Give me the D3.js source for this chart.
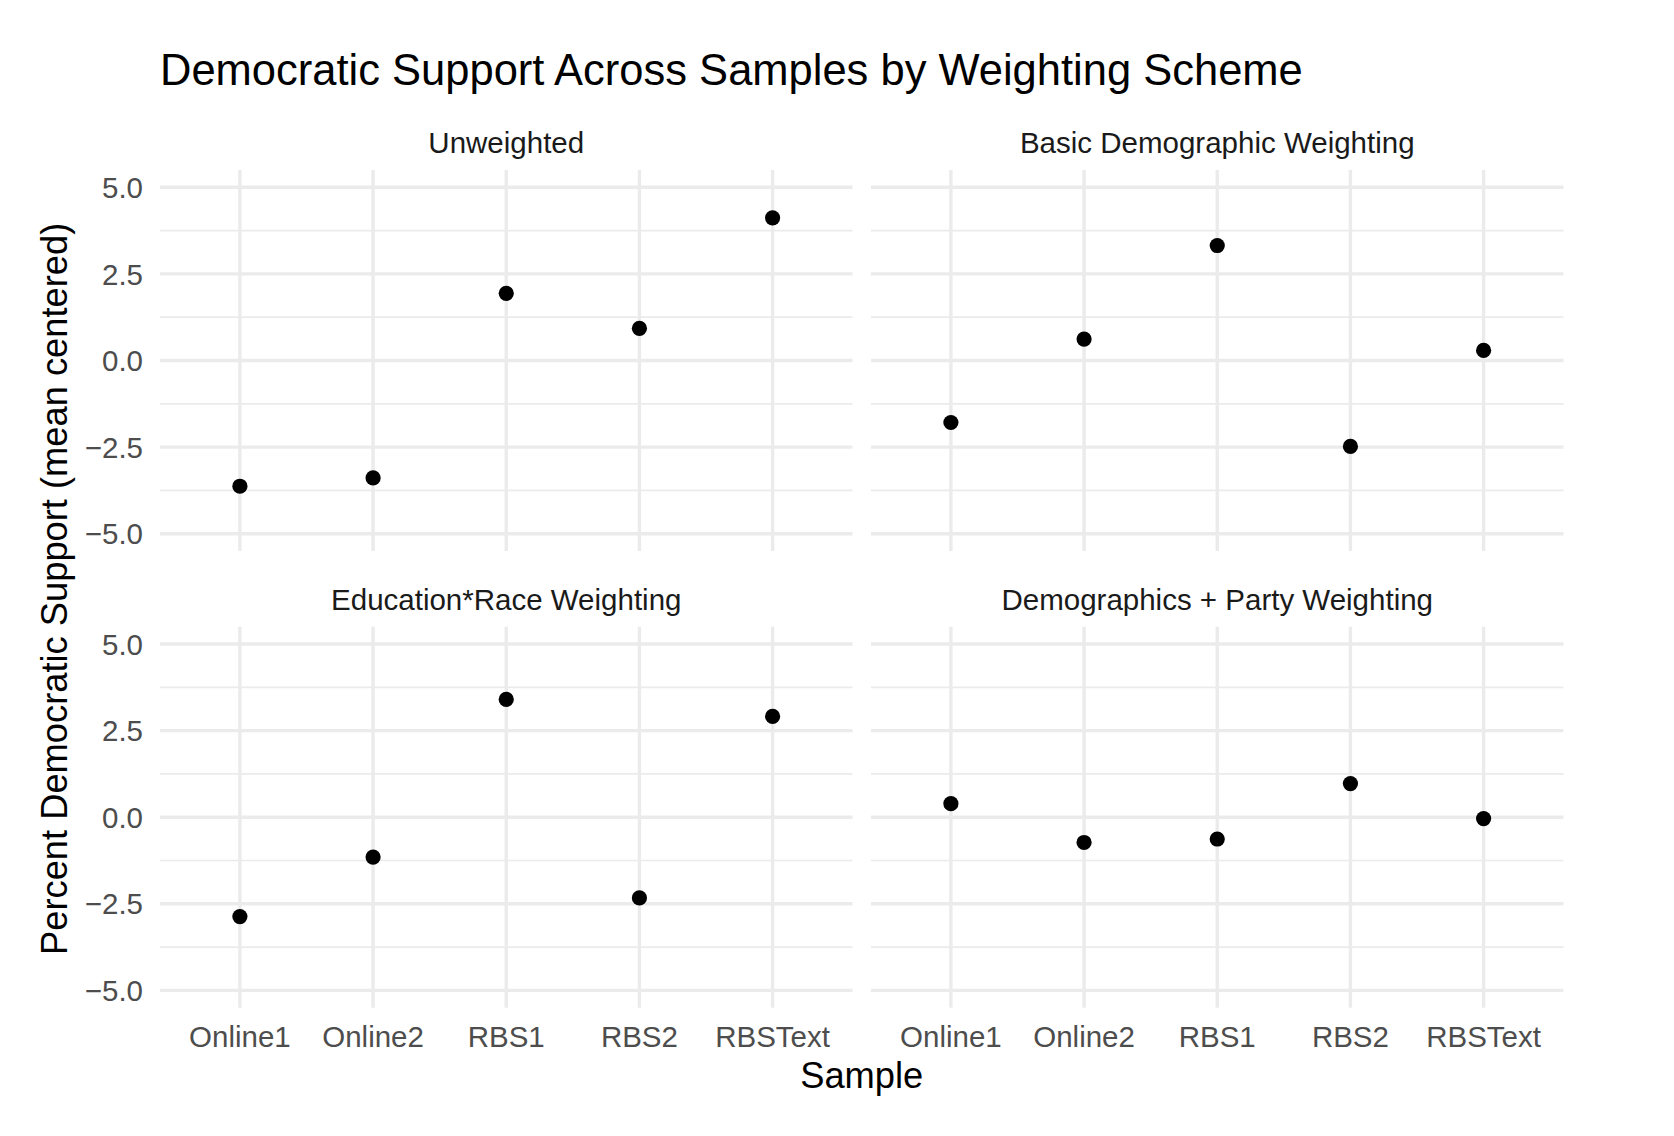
<!DOCTYPE html>
<html>
<head>
<meta charset="utf-8">
<script src="https://cdn.jsdelivr.net/npm/d3@7"></script>
<style>
  html, body { margin: 0; padding: 0; background: #ffffff; }
  svg { display: block; font-family: "Liberation Sans", Arial, Helvetica, sans-serif; }
</style>
</head>
<body>
<svg id="chart" width="1674" height="1136"></svg>
<script>
// ---- Data ----
const samples = ["Online1", "Online2", "RBS1", "RBS2", "RBSText"];
const schemes = ["Unweighted", "Basic Demographic Weighting", "Education*Race Weighting", "Demographics + Party Weighting"];
const unweighted = [-3.63, -3.39, 1.94, 0.93, 4.12];
const basicDemographic = [-1.79, 0.62, 3.32, -2.48, 0.29];
const educationRace = [-2.87, -1.15, 3.40, -2.33, 2.91];
const demographicsParty = [0.39, -0.73, -0.63, 0.97, -0.04];
const yTicks = [-5, -2.5, 0, 2.5, 5];
const yMinorTicks = [-3.75, -1.25, 1.25, 3.75];

const seriesByScheme = [unweighted, basicDemographic, educationRace, demographicsParty];

// ---- Layout ----
const svg = d3.select("#chart");
svg.append("rect").attr("width", 1674).attr("height", 1136).attr("fill", "#ffffff");

const panelW = 692.5, panelH = 381;
const colX = [160, 871];
const rowY = [170, 626.7];

const x = d3.scalePoint().domain(samples).range([0, panelW]).padding(0.6);
const y = d3.scaleLinear().domain([-5.5, 5.5]).range([panelH, 0]);

const fmt = v => (v < 0 ? "\u2212" : "") + Math.abs(v).toFixed(1);

schemes.forEach((scheme, i) => {
  const col = i % 2, row = Math.floor(i / 2);
  const g = svg.append("g").attr("transform", `translate(${colX[col]},${rowY[row]})`);

  // minor gridlines
  g.selectAll(".minor").data(yMinorTicks).enter().append("line")
    .attr("x1", 0).attr("x2", panelW)
    .attr("y1", d => y(d)).attr("y2", d => y(d))
    .attr("stroke", "#EBEBEB").attr("stroke-width", 1.7);
  // major horizontal
  g.selectAll(".majorY").data(yTicks).enter().append("line")
    .attr("x1", 0).attr("x2", panelW)
    .attr("y1", d => y(d)).attr("y2", d => y(d))
    .attr("stroke", "#EBEBEB").attr("stroke-width", 3.4);
  // major vertical
  g.selectAll(".majorX").data(samples).enter().append("line")
    .attr("x1", d => x(d)).attr("x2", d => x(d))
    .attr("y1", 0).attr("y2", panelH)
    .attr("stroke", "#EBEBEB").attr("stroke-width", 3.4);

  // strip label
  g.append("text")
    .attr("x", panelW / 2).attr("y", -17)
    .attr("text-anchor", "middle")
    .attr("font-size", 29.5).attr("fill", "#1A1A1A")
    .text(scheme);

  // points
  const vals = seriesByScheme[i];
  g.selectAll(".pt").data(samples.map((s, k) => ({ s, v: vals[k] }))).enter().append("circle")
    .attr("cx", d => x(d.s)).attr("cy", d => y(d.v))
    .attr("r", 7.6).attr("fill", "#000000");

  // y tick labels (left column only)
  if (col === 0) {
    g.selectAll(".ylab").data(yTicks).enter().append("text")
      .attr("x", -17).attr("y", d => y(d)).attr("dy", "0.36em")
      .attr("text-anchor", "end")
      .attr("font-size", 29.5).attr("fill", "#4D4D4D")
      .text(d => fmt(d));
  }
  // x tick labels (bottom row only)
  if (row === 1) {
    g.selectAll(".xlab").data(samples).enter().append("text")
      .attr("x", d => x(d)).attr("y", panelH + 39)
      .attr("text-anchor", "middle")
      .attr("font-size", 29.5).attr("fill", "#4D4D4D")
      .text(d => d);
  }
});

// Title
svg.append("text")
  .attr("x", 160).attr("y", 85)
  .attr("font-size", 43.5).attr("fill", "#000000")
  .text("Democratic Support Across Samples by Weighting Scheme");

// Axis titles
svg.append("text")
  .attr("x", (colX[0] + colX[1] + panelW) / 2).attr("y", 1088)
  .attr("text-anchor", "middle")
  .attr("font-size", 36.3).attr("fill", "#000000")
  .text("Sample");

svg.append("text")
  .attr("transform", `translate(67,${(rowY[0] + rowY[1] + panelH) / 2}) rotate(-90)`)
  .attr("text-anchor", "middle")
  .attr("font-size", 36.3).attr("fill", "#000000")
  .text("Percent Democratic Support (mean centered)");
</script>
</body>
</html>
